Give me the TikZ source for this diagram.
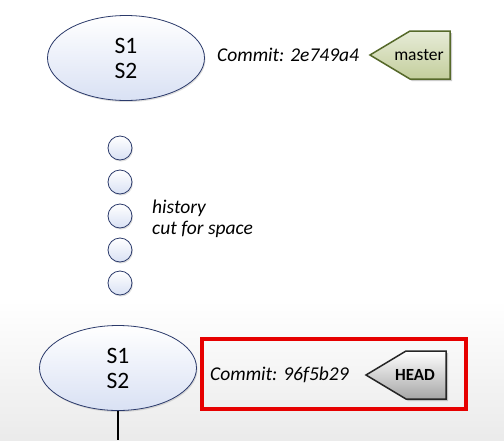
\documentclass[tikz,border=0pt]{standalone}
\usepackage{fontspec}
\setmainfont{Carlito}
\usetikzlibrary{shapes.geometric,shadows}
\definecolor{navy}{HTML}{2B3A6B}
\definecolor{blobfill}{HTML}{D9E1F4}
\definecolor{tagfill}{HTML}{C3CE9C}
\definecolor{tagline}{HTML}{56692A}
\definecolor{boxred}{HTML}{E60000}
\newcommand{\flag}[2]{\draw[#2] (#1) --++ (40,-24) --++ (40,0) --++ (0,48) --++ (-40,0) -- cycle}
\tikzset{
  commit/.style={ellipse, draw=navy, thick, top color=white, bottom color=blobfill,
    minimum width=157pt, minimum height=85pt, align=center, inner sep=0pt,
    font=\fontsize{23.5}{25}\selectfont,
    drop shadow={opacity=0.25, shadow xshift=1pt, shadow yshift=-1.5pt}},
  ghost/.style={circle, draw=navy, thick, top color=white, bottom color=blobfill,
    minimum size=24pt, inner sep=0pt,
    drop shadow={opacity=0.25, shadow xshift=1pt, shadow yshift=-1.5pt}},
  note/.style={font=\fontsize{19.5}{21}\selectfont\itshape, align=left, inner sep=0pt},
  shadowed/.style={line width=1.5pt, line join=miter,
    drop shadow={opacity=0.4, shadow xshift=2pt, shadow yshift=-2pt}},
  label/.style={font=\fontsize{17.5}{20}\selectfont, inner sep=0pt}
}
\begin{document}
\begin{tikzpicture}[x=1pt,y=-1pt]
%Background
	\useasboundingbox (0,0) rectangle (504,440);
	\fill[white] (0,0) rectangle (504,300);
	\shade[top color=white, bottom color=black!8] (0,300) rectangle (504,440);
%The newest commit
	\node[commit] (top) at (126,58) {S1\\S2};
	\node[note, anchor=west] (topid) at (217,55) {Commit: 2e749a4};
	\coordinate (mtip) at (370,55);
	\flag{mtip}{shadowed, draw=tagline, top color=white!60!tagfill, bottom color=tagfill};
	\node[label] (master) at (419,55) {master};
%The cut
	\foreach \y [count=\i] in {148,182,216,250,283}
		\node[ghost] (g\i) at (120,\y) {};
	\node[note, anchor=west] (cut) at (152,219) {history\\cut for space};
%The old commit
	\node[commit] (low) at (118,368) {S1\\S2};
	\coordinate (tail) at (118,440);
	\draw[line width=2.8pt] (low.south) -- (tail);
	\node[draw=boxred, line width=3.5pt, minimum width=264pt, minimum height=70pt]
		(frame) at (334,374) {};
	\node[note, anchor=west] (lowid) at (210,375) {Commit: 96f5b29};
	\coordinate (htip) at (366,375);
	\flag{htip}{shadowed, draw=black!85, top color=white, bottom color=black!35};
	\node[label, font=\fontsize{17}{20}\selectfont\bfseries] (head) at (415,375) {HEAD};
\end{tikzpicture}
\end{document}
